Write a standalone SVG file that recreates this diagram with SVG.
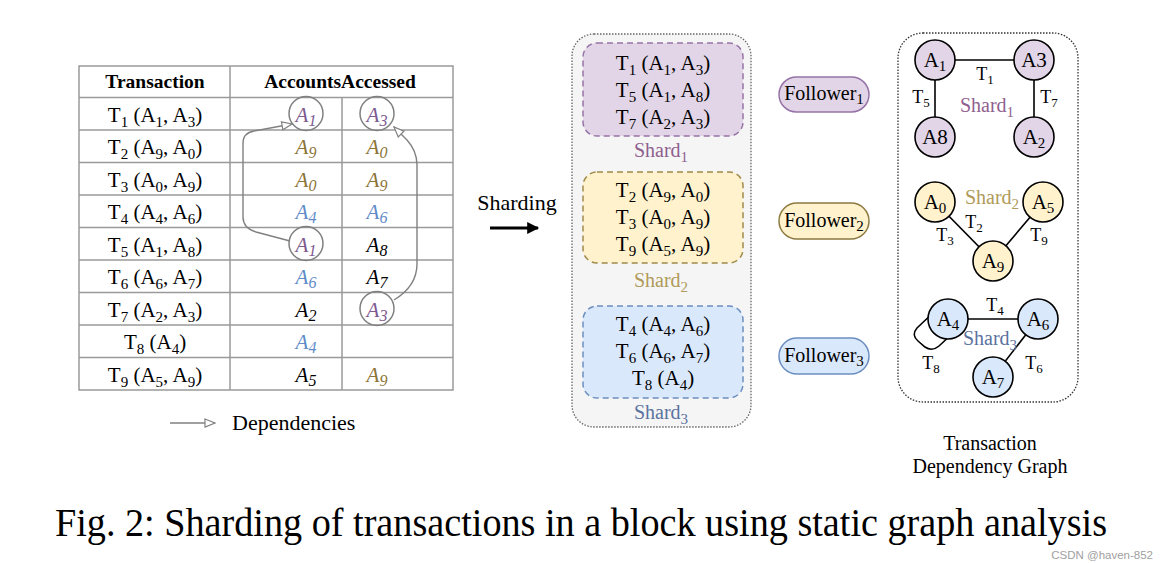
<svg xmlns="http://www.w3.org/2000/svg" width="1168" height="563" viewBox="0 0 1168 563">
<defs>
<style>
text{font-family:"Liberation Serif","Times New Roman",serif;fill:#000}
.t{font-size:21px;text-anchor:middle}
.s{font-size:15px}
.si{font-size:16px}
.i{font-style:italic;font-size:21px;text-anchor:middle}
.hd{font-weight:bold;font-size:19.5px;text-anchor:middle}
.grid{stroke:#9a9a9a;stroke-width:1.5;fill:none}
.pur{fill:#7d5a8f}.gold{fill:#8c7436}.blue{fill:#5f8cc8}
.circ{fill:none;stroke:#808080;stroke-width:1.5}
.dep{fill:none;stroke:#808080;stroke-width:1.4}
.edge{stroke:#000;stroke-width:1.6;fill:none}
.node circle{stroke:#000;stroke-width:1.6}
.nt{font-size:21px;text-anchor:middle}
.el{font-size:18px;text-anchor:middle}
.es{font-size:13px}
.lab{font-size:20px;text-anchor:middle}
.ls{font-size:15px}
.p1{fill:#e1d5e7}.p2{fill:#fff2cc}.p3{fill:#dae8fc}
.c1{fill:#8f5f8f}.c2{fill:#b09a5a}.c3{fill:#5a72a0}
</style>
<marker id="open" viewBox="0 0 12 10" refX="11" refY="5" markerWidth="12" markerHeight="10" markerUnits="userSpaceOnUse" orient="auto"><path d="M1,1 L11,5 L1,9 z" fill="#fff" stroke="#808080" stroke-width="1.2"/></marker>
<marker id="solid" viewBox="0 0 10 10" refX="9" refY="5" markerWidth="15" markerHeight="12" markerUnits="userSpaceOnUse" orient="auto"><path d="M0,0 L10,5 L0,10 z" fill="#000"/></marker>
</defs>
<rect width="1168" height="563" fill="#fff"/>

<g id="table">
<rect class="grid" x="79" y="66" width="374" height="324"/>
<path class="grid" d="M79 97.5H453M79 130H453M79 162.5H453M79 195H453M79 227.5H453M79 260H453M79 292.5H453M79 325H453M79 357.5H453M230 66V390M342 97.5V390"/>
<text class="hd" x="155" y="88">Transaction</text>
<text class="hd" x="340" y="88">AccountsAccessed</text>

<text class="t" x="155" y="121.5">T<tspan class="s" dy="5">1</tspan><tspan dy="-5"> (A</tspan><tspan class="s" dy="5">1</tspan><tspan dy="-5">, A</tspan><tspan class="s" dy="5">3</tspan><tspan dy="-5">)</tspan></text>
<text class="t" x="155" y="154">T<tspan class="s" dy="5">2</tspan><tspan dy="-5"> (A</tspan><tspan class="s" dy="5">9</tspan><tspan dy="-5">, A</tspan><tspan class="s" dy="5">0</tspan><tspan dy="-5">)</tspan></text>
<text class="t" x="155" y="186.5">T<tspan class="s" dy="5">3</tspan><tspan dy="-5"> (A</tspan><tspan class="s" dy="5">0</tspan><tspan dy="-5">, A</tspan><tspan class="s" dy="5">9</tspan><tspan dy="-5">)</tspan></text>
<text class="t" x="155" y="219">T<tspan class="s" dy="5">4</tspan><tspan dy="-5"> (A</tspan><tspan class="s" dy="5">4</tspan><tspan dy="-5">, A</tspan><tspan class="s" dy="5">6</tspan><tspan dy="-5">)</tspan></text>
<text class="t" x="155" y="251.5">T<tspan class="s" dy="5">5</tspan><tspan dy="-5"> (A</tspan><tspan class="s" dy="5">1</tspan><tspan dy="-5">, A</tspan><tspan class="s" dy="5">8</tspan><tspan dy="-5">)</tspan></text>
<text class="t" x="155" y="284">T<tspan class="s" dy="5">6</tspan><tspan dy="-5"> (A</tspan><tspan class="s" dy="5">6</tspan><tspan dy="-5">, A</tspan><tspan class="s" dy="5">7</tspan><tspan dy="-5">)</tspan></text>
<text class="t" x="155" y="316.5">T<tspan class="s" dy="5">7</tspan><tspan dy="-5"> (A</tspan><tspan class="s" dy="5">2</tspan><tspan dy="-5">, A</tspan><tspan class="s" dy="5">3</tspan><tspan dy="-5">)</tspan></text>
<text class="t" x="155" y="349">T<tspan class="s" dy="5">8</tspan><tspan dy="-5"> (A</tspan><tspan class="s" dy="5">4</tspan><tspan dy="-5">)</tspan></text>
<text class="t" x="155" y="381.5">T<tspan class="s" dy="5">9</tspan><tspan dy="-5"> (A</tspan><tspan class="s" dy="5">5</tspan><tspan dy="-5">, A</tspan><tspan class="s" dy="5">9</tspan><tspan dy="-5">)</tspan></text>

<text class="i pur" x="306" y="121.5">A<tspan class="si" dy="4">1</tspan></text>
<text class="i gold" x="306" y="154">A<tspan class="si" dy="4">9</tspan></text>
<text class="i gold" x="306" y="186.5">A<tspan class="si" dy="4">0</tspan></text>
<text class="i blue" x="306" y="219">A<tspan class="si" dy="4">4</tspan></text>
<text class="i pur" x="306" y="251.5">A<tspan class="si" dy="4">1</tspan></text>
<text class="i blue" x="306" y="284">A<tspan class="si" dy="4">6</tspan></text>
<text class="i" x="306" y="316.5">A<tspan class="si" dy="4">2</tspan></text>
<text class="i blue" x="306" y="349">A<tspan class="si" dy="4">4</tspan></text>
<text class="i" x="306" y="381.5">A<tspan class="si" dy="4">5</tspan></text>

<text class="i pur" x="377" y="121.5">A<tspan class="si" dy="4">3</tspan></text>
<text class="i gold" x="377" y="154">A<tspan class="si" dy="4">0</tspan></text>
<text class="i gold" x="377" y="186.5">A<tspan class="si" dy="4">9</tspan></text>
<text class="i blue" x="377" y="219">A<tspan class="si" dy="4">6</tspan></text>
<text class="i" x="377" y="251.5">A<tspan class="si" dy="4">8</tspan></text>
<text class="i" x="377" y="284">A<tspan class="si" dy="4">7</tspan></text>
<text class="i pur" x="377" y="316.5">A<tspan class="si" dy="4">3</tspan></text>
<text class="i gold" x="377" y="381.5">A<tspan class="si" dy="4">9</tspan></text>

<circle class="circ" cx="306" cy="113.5" r="17"/>
<circle class="circ" cx="377" cy="113.5" r="17"/>
<circle class="circ" cx="306" cy="243.5" r="17"/>
<circle class="circ" cx="377" cy="308.5" r="17"/>
</g>

<g id="legend">
<line class="dep" x1="170" y1="423" x2="215" y2="423" marker-end="url(#open)"/>
<text x="232" y="430" font-size="22">Dependencies</text>
</g>

<g id="connectors">
<path class="dep" d="M290 241 L256 232 Q243 228 243 217 L243 143 Q243 133 254 131 L292 124" marker-end="url(#open)"/>
<path class="dep" d="M394 300 Q417 286 417 264 L417 165 Q417 151 407 140 L394 127" marker-end="url(#open)"/>
<line x1="490" y1="228" x2="538" y2="228" stroke="#000" stroke-width="3" marker-end="url(#solid)"/>
<line class="edge" x1="935" y1="60" x2="1034" y2="60"/>
<line class="edge" x1="935" y1="60" x2="935" y2="137"/>
<line class="edge" x1="1034" y1="60" x2="1034" y2="137"/>
<line class="edge" x1="935" y1="202" x2="993" y2="261"/>
<line class="edge" x1="1043" y1="202" x2="993" y2="261"/>
<line class="edge" x1="948" y1="319" x2="1038" y2="319"/>
<line class="edge" x1="1038" y1="319" x2="993" y2="377"/>
<path class="edge" d="M935 311 L917 328 Q911 335 918 341 L925 347 Q932 352 939 346 L952 334"/>
</g>

<g id="sharding-label"><text x="517" y="210" font-size="22" text-anchor="middle">Sharding</text></g>

<g id="shards">
<rect x="572" y="34" width="179" height="393" rx="22" fill="#f5f5f5" stroke="#666" stroke-width="1.3" stroke-dasharray="1.5 1.5"/>
</g>

<g id="shard1">
<rect x="583" y="43" width="160" height="93" rx="14" class="p1" stroke="#9673a6" stroke-width="1.5" stroke-dasharray="6 4"/>
<text class="t" x="663" y="70">T<tspan class="s" dy="5">1</tspan><tspan dy="-5"> (A</tspan><tspan class="s" dy="5">1</tspan><tspan dy="-5">, A</tspan><tspan class="s" dy="5">3</tspan><tspan dy="-5">)</tspan></text>
<text class="t" x="663" y="97">T<tspan class="s" dy="5">5</tspan><tspan dy="-5"> (A</tspan><tspan class="s" dy="5">1</tspan><tspan dy="-5">, A</tspan><tspan class="s" dy="5">8</tspan><tspan dy="-5">)</tspan></text>
<text class="t" x="663" y="124">T<tspan class="s" dy="5">7</tspan><tspan dy="-5"> (A</tspan><tspan class="s" dy="5">2</tspan><tspan dy="-5">, A</tspan><tspan class="s" dy="5">3</tspan><tspan dy="-5">)</tspan></text>
<text class="lab c1" x="661" y="157">Shard<tspan class="ls" dy="5">1</tspan></text>
</g>

<g id="shard2">
<rect x="583" y="172" width="160" height="91" rx="14" class="p2" stroke="#a08a4a" stroke-width="1.5" stroke-dasharray="6 4"/>
<text class="t" x="663" y="197">T<tspan class="s" dy="5">2</tspan><tspan dy="-5"> (A</tspan><tspan class="s" dy="5">9</tspan><tspan dy="-5">, A</tspan><tspan class="s" dy="5">0</tspan><tspan dy="-5">)</tspan></text>
<text class="t" x="663" y="224">T<tspan class="s" dy="5">3</tspan><tspan dy="-5"> (A</tspan><tspan class="s" dy="5">0</tspan><tspan dy="-5">, A</tspan><tspan class="s" dy="5">9</tspan><tspan dy="-5">)</tspan></text>
<text class="t" x="663" y="251">T<tspan class="s" dy="5">9</tspan><tspan dy="-5"> (A</tspan><tspan class="s" dy="5">5</tspan><tspan dy="-5">, A</tspan><tspan class="s" dy="5">9</tspan><tspan dy="-5">)</tspan></text>
<text class="lab c2" x="661" y="287">Shard<tspan class="ls" dy="5">2</tspan></text>
</g>

<g id="shard3">
<rect x="583" y="306" width="160" height="92" rx="14" class="p3" stroke="#6c8ebf" stroke-width="1.5" stroke-dasharray="6 4"/>
<text class="t" x="663" y="331">T<tspan class="s" dy="5">4</tspan><tspan dy="-5"> (A</tspan><tspan class="s" dy="5">4</tspan><tspan dy="-5">, A</tspan><tspan class="s" dy="5">6</tspan><tspan dy="-5">)</tspan></text>
<text class="t" x="663" y="358">T<tspan class="s" dy="5">6</tspan><tspan dy="-5"> (A</tspan><tspan class="s" dy="5">6</tspan><tspan dy="-5">, A</tspan><tspan class="s" dy="5">7</tspan><tspan dy="-5">)</tspan></text>
<text class="t" x="663" y="385">T<tspan class="s" dy="5">8</tspan><tspan dy="-5"> (A</tspan><tspan class="s" dy="5">4</tspan><tspan dy="-5">)</tspan></text>
<text class="lab c3" x="661" y="419">Shard<tspan class="ls" dy="5">3</tspan></text>
</g>

<g id="follower1">
<rect x="779" y="77" width="90" height="35" rx="17.5" class="p1" stroke="#9673a6" stroke-width="1.5"/>
<text class="lab" x="824" y="100">Follower<tspan class="ls" dy="4">1</tspan></text>
</g>
<g id="follower2">
<rect x="779" y="203" width="90" height="36" rx="18" class="p2" stroke="#8c7a40" stroke-width="1.5"/>
<text class="lab" x="824" y="227">Follower<tspan class="ls" dy="4">2</tspan></text>
</g>
<g id="follower3">
<rect x="779" y="338" width="90" height="36" rx="18" class="p3" stroke="#6c8ebf" stroke-width="1.5"/>
<text class="lab" x="824" y="362">Follower<tspan class="ls" dy="4">3</tspan></text>
</g>

<g id="graph-frame">
<rect x="898" y="33" width="180" height="369" rx="25" fill="none" stroke="#333" stroke-width="1.3" stroke-dasharray="1.5 1.5"/>
<text x="990" y="450" font-size="20" text-anchor="middle">Transaction</text>
<text x="990" y="473" font-size="20" text-anchor="middle">Dependency Graph</text>
</g>

<g id="edge-labels">
<text class="el" x="985" y="80">T<tspan class="es" dy="4">1</tspan></text>
<text class="el" x="921" y="103">T<tspan class="es" dy="4">5</tspan></text>
<text class="el" x="1049" y="103">T<tspan class="es" dy="4">7</tspan></text>
<text class="lab c1" x="987" y="112">Shard<tspan class="ls" dy="5">1</tspan></text>
<text class="el" x="974" y="228">T<tspan class="es" dy="4">2</tspan></text>
<text class="el" x="945" y="241">T<tspan class="es" dy="4">3</tspan></text>
<text class="el" x="1039" y="241">T<tspan class="es" dy="4">9</tspan></text>
<text class="lab c2" x="992" y="204">Shard<tspan class="ls" dy="5">2</tspan></text>
<text class="el" x="995" y="311">T<tspan class="es" dy="4">4</tspan></text>
<text class="lab c3" x="990" y="345">Shard<tspan class="ls" dy="5">3</tspan></text>
<text class="el" x="931" y="369">T<tspan class="es" dy="4">8</tspan></text>
<text class="el" x="1034" y="369">T<tspan class="es" dy="4">6</tspan></text>
</g>

<g id="node-A1" class="node"><circle cx="935" cy="60" r="20" class="p1"/><text class="nt" x="935" y="67">A<tspan class="s" dy="4">1</tspan></text></g>
<g id="node-A3" class="node"><circle cx="1034" cy="60" r="20" class="p1"/><text class="nt" x="1034" y="67">A3</text></g>
<g id="node-A8" class="node"><circle cx="935" cy="137" r="20" class="p1"/><text class="nt" x="935" y="144">A8</text></g>
<g id="node-A2" class="node"><circle cx="1034" cy="137" r="20" class="p1"/><text class="nt" x="1034" y="144">A<tspan class="s" dy="4">2</tspan></text></g>
<g id="node-A0" class="node"><circle cx="935" cy="202" r="20" class="p2"/><text class="nt" x="935" y="209">A<tspan class="s" dy="4">0</tspan></text></g>
<g id="node-A5" class="node"><circle cx="1043" cy="202" r="20" class="p2"/><text class="nt" x="1043" y="209">A<tspan class="s" dy="4">5</tspan></text></g>
<g id="node-A9" class="node"><circle cx="993" cy="261" r="20" class="p2"/><text class="nt" x="993" y="268">A<tspan class="s" dy="4">9</tspan></text></g>
<g id="node-A4" class="node"><circle cx="948" cy="319" r="20" class="p3"/><text class="nt" x="948" y="326">A<tspan class="s" dy="4">4</tspan></text></g>
<g id="node-A6" class="node"><circle cx="1038" cy="319" r="20" class="p3"/><text class="nt" x="1038" y="326">A<tspan class="s" dy="4">6</tspan></text></g>
<g id="node-A7" class="node"><circle cx="993" cy="377" r="20" class="p3"/><text class="nt" x="993" y="384">A<tspan class="s" dy="4">7</tspan></text></g>

<g id="caption">
<text x="55" y="536" font-size="39" textLength="1052" lengthAdjust="spacingAndGlyphs">Fig. 2: Sharding of transactions in a block using static graph analysis</text>
<text x="1153" y="559" font-size="11.5" text-anchor="end" style="font-family:'Liberation Sans',Arial,sans-serif;fill:#a0a0a0">CSDN @haven-852</text>
</g>
</svg>
